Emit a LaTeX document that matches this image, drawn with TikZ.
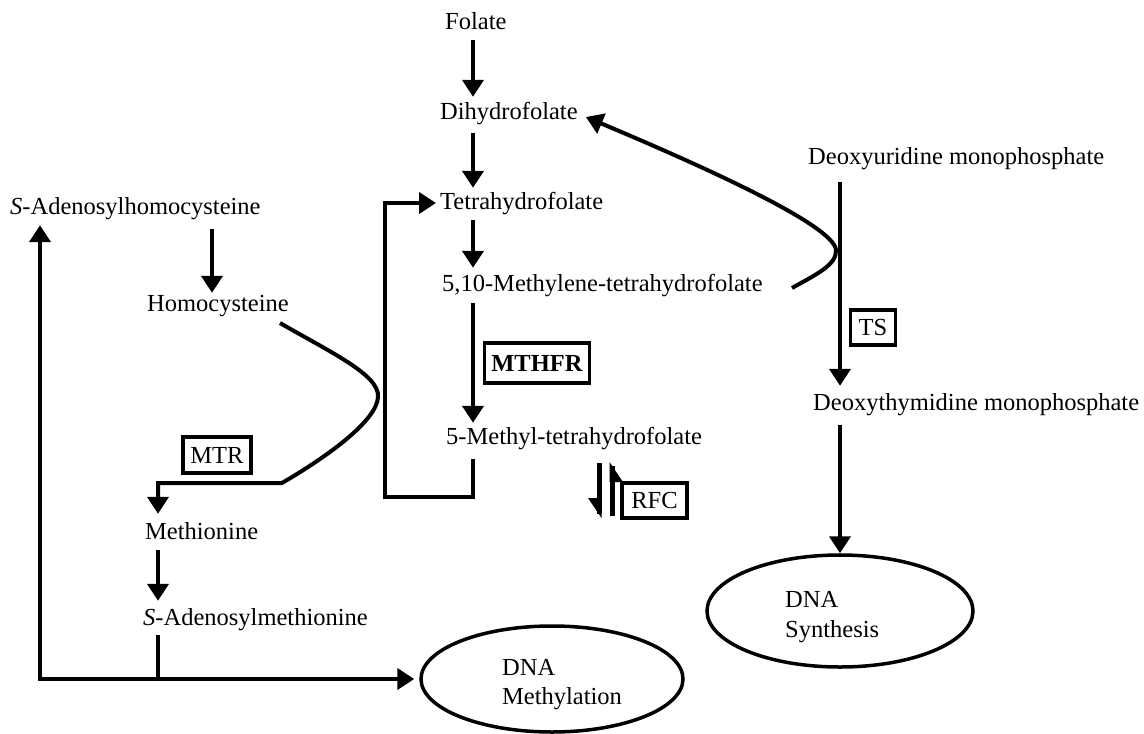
\documentclass[tikz,border=0pt]{standalone}
\usepackage{fontspec}
\setmainfont{Liberation Serif}
\usetikzlibrary{arrows.meta,shapes.geometric,calc}
\begin{document}
\begin{tikzpicture}[x=1pt,y=-1pt,
  txt/.style={anchor=base west, inner sep=0pt, text height=17pt, text depth=5pt,
    font=\fontsize{24.5pt}{29pt}\selectfont},
  line/.style={line width=4pt},
  arr/.style={line width=4pt, -{Triangle[width=21pt,length=17pt]}},
  enzyme/.style={draw, line width=3.5pt, rectangle, inner sep=0pt,
    font=\fontsize{24.5pt}{29pt}\selectfont},
  outcome/.style={draw, line width=3.5pt, ellipse, inner sep=0pt}
]
\fill[white] (0,0) rectangle (1144,734);
\useasboundingbox (0,0) rectangle (1144,734);

% metabolite texts
\node[txt] (folate) at (445,29) {Folate};
\node[txt] (dhf) at (440,119) {Dihydrofolate};
\node[txt] (thf) at (440,209) {Tetrahydrofolate};
\node[txt] (mthf510) at (442,291) {5,10-Methylene-tetrahydrofolate};
\node[txt] (mthf5) at (446,444) {5-Methyl-tetrahydrofolate};
\node[txt] (dump) at (808,164) {Deoxyuridine monophosphate};
\node[txt] (dtmp) at (813,410) {Deoxythymidine monophosphate};
\node[txt] (sah) at (10,214) {\textit{S}-Adenosylhomocysteine};
\node[txt] (hcy) at (147,311) {Homocysteine};
\node[txt] (met) at (145,539) {Methionine};
\node[txt] (sam) at (143,625) {\textit{S}-Adenosylmethionine};

% enzymes
\node[enzyme, minimum width=105pt, minimum height=40pt] (mthfr) at (537,363) {\textbf{MTHFR}};
\node[enzyme, minimum width=68pt, minimum height=36pt] (mtr) at (217,455) {MTR};
\node[enzyme, minimum width=65pt, minimum height=35pt] (rfc) at (654.5,500.5) {RFC};
\node[enzyme, minimum width=45pt, minimum height=35pt] (ts) at (873,327.5) {TS};

% outcomes
\node[outcome, minimum width=262pt, minimum height=106pt] (meth) at (552,679) {};
\node[txt] (meth1) at (502,675) {DNA};
\node[txt] (meth2) at (502,704) {Methylation};
\node[outcome, minimum width=266pt, minimum height=112pt] (synth) at (840,611) {};
\node[txt] (synth1) at (785,607) {DNA};
\node[txt] (synth2) at (785,637) {Synthesis};

% folate chain
\draw[arr, shorten <=6pt, shorten >=5pt] (473,0 |- folate.south) -- (473,0 |- dhf.north);
\draw[arr, shorten <=9pt, shorten >=4pt] (473,0 |- dhf.south) -- (473,0 |- thf.north);
\draw[arr, shorten <=6pt, shorten >=6pt] (473,0 |- thf.south) -- (473,0 |- mthf510.north);
\draw[arr, shorten <=7pt, shorten >=4pt] (473,0 |- mthf510.south) -- (473,0 |- mthf5.north);

% return bracket 5-methyl-THF -> THF
\draw[arr, line join=miter, shorten <=10pt, shorten >=4pt]
  (473,0 |- mthf5.south) -- (473,497) -- (385,497) -- (385,0 |- thf.west) -- (thf.west);

% 5,10-methylene-THF -> dihydrofolate (via TS)
\coordinate (tsA) at (792,288);
\coordinate (tsB) at (836,250);
\draw[arr] (tsA) .. controls (815,275) and (837,265) .. (tsB)
  .. controls (834,225) and (700,165) .. ([xshift=8pt,yshift=-4pt]dhf.east);

% dUMP -> dTMP -> DNA synthesis
\draw[arr, shorten <=13pt, shorten >=7pt] (840,0 |- dump.south) -- (840,0 |- dtmp.north);
\draw[arr, shorten <=10pt] (840,0 |- dtmp.south) -- (synth.north);

% methionine cycle
\draw[arr, shorten <=10pt, shorten >=1pt] (212,0 |- sah.south) -- (212,0 |- hcy.north);
\coordinate (hA) at (280,323);
\coordinate (hB) at (378,397);
\draw[arr, line join=miter, shorten >=8pt] (hA) .. controls (330,352) and (380,375) .. (hB)
  .. controls (377,420) and (330,455) .. (282,483) -- (158,483) -- (158,0 |- met.north);
\draw[arr, shorten <=6pt, shorten >=7pt] (158,0 |- met.south) -- (158,0 |- sam.north);
\coordinate (junc) at (158,679);
\coordinate (corner) at (40,679);
\draw[line, shorten <=5pt] (158,0 |- sam.south) -- (junc);
\draw[line width=4pt, line join=miter,
  {Triangle[width=21pt,length=17pt]}-{Triangle[width=21pt,length=17pt]},
  shorten <=6pt, shorten >=5pt]
  (40,0 |- sah.south) -- (corner) -- (meth.west);

% RFC harpoons
\coordinate (hl1) at (599,463);
\coordinate (hl2) at (599,518);
\coordinate (hr1) at (612,516);
\coordinate (hr2) at (612,462);
\draw[line width=5pt] (hl1) -- ($(hl2)+(0,-4)$);
\fill ($(hl2)+(2.5,0)$) -- ($(hl2)+(-11,-20)$) -- ($(hl2)+(2.5,-20)$) -- cycle;
\draw[line width=5pt] (hr1) -- ($(hr2)+(0,4)$);
\fill ($(hr2)+(-2.5,0)$) -- ($(hr2)+(11,20)$) -- ($(hr2)+(-2.5,20)$) -- cycle;
\end{tikzpicture}
\end{document}
